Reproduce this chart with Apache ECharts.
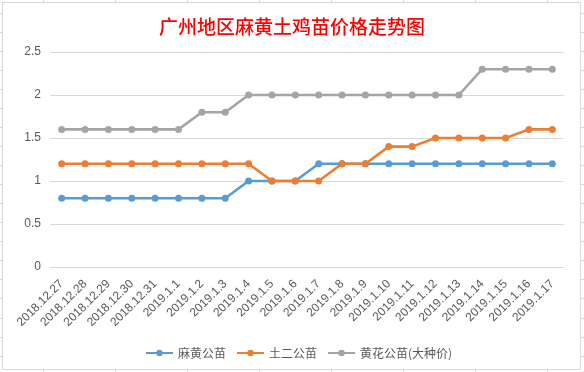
<!DOCTYPE html>
<html>
<head>
<meta charset="utf-8">
<script src="https://cdn.jsdelivr.net/npm/echarts@6/dist/echarts.min.js"></script>
<style>html,body{margin:0;padding:0;background:#fff;}#c{width:584px;height:372px;}</style>
</head>
<body>
<div id="c"></div>
<script>
const categories = ['2018.12.27','2018.12.28','2018.12.29','2018.12.30','2018.12.31','2019.1.1','2019.1.2','2019.1.3','2019.1.4','2019.1.5','2019.1.6','2019.1.7','2019.1.8','2019.1.9','2019.1.10','2019.1.11','2019.1.12','2019.1.13','2019.1.14','2019.1.15','2019.1.16','2019.1.17'];
const mahuang = [0.8,0.8,0.8,0.8,0.8,0.8,0.8,0.8,1.0,1.0,1.0,1.2,1.2,1.2,1.2,1.2,1.2,1.2,1.2,1.2,1.2,1.2];
const tuer = [1.2,1.2,1.2,1.2,1.2,1.2,1.2,1.2,1.2,1.0,1.0,1.0,1.2,1.2,1.4,1.4,1.5,1.5,1.5,1.5,1.6,1.6];
const huanghua = [1.6,1.6,1.6,1.6,1.6,1.6,1.8,1.8,2.0,2.0,2.0,2.0,2.0,2.0,2.0,2.0,2.0,2.0,2.3,2.3,2.3,2.3];
const seriesNames = ['麻黄公苗','土二公苗','黄花公苗(大种价)'];
const colors = ['#5B9BD5','#ED7D31','#A5A5A5'];
const titleText = '广州地区麻黄土鸡苗价格走势图';

const chart = echarts.init(document.getElementById('c'), null, {renderer:'canvas'});

const deco = [];
for (let y = 12.7; y < 372; y += 19.05) {
  deco.push({type:'line', shape:{x1:0,y1:Math.round(y)+0.5,x2:2,y2:Math.round(y)+0.5}, style:{stroke:'#d9d9d9',lineWidth:1}, silent:true});
  deco.push({type:'line', shape:{x1:581,y1:Math.round(y)+0.5,x2:584,y2:Math.round(y)+0.5}, style:{stroke:'#d9d9d9',lineWidth:1}, silent:true});
}
for (let x = 43; x < 584; x += 72) {
  deco.push({type:'line', shape:{x1:Math.round(x)+0.5,y1:0,x2:Math.round(x)+0.5,y2:2}, style:{stroke:'#d9d9d9',lineWidth:1}, silent:true});
  deco.push({type:'line', shape:{x1:Math.round(x)+0.5,y1:370,x2:Math.round(x)+0.5,y2:372}, style:{stroke:'#d9d9d9',lineWidth:1}, silent:true});
}
deco.push({type:'rect', shape:{x:2.5,y:2.5,width:578,height:367}, style:{fill:'none',stroke:'#d9d9d9',lineWidth:1}, silent:true, z:-1});

const mk = (i, data) => ({
  name: seriesNames[i], type:'line', data: data,
  symbol:'circle', symbolSize:7,
  lineStyle:{width:2.6, color:colors[i]},
  itemStyle:{color:colors[i]},
  emphasis:{disabled:true}
});

chart.setOption({
  animation:false,
  backgroundColor:'#fff',
  color: colors,
  title:{
    text:titleText, left:'center', top:12,
    textStyle:{color:'#ff0000', fontSize:19, fontWeight:500, fontFamily:'"Noto Sans CJK SC", sans-serif'}
  },
  legend:{
    left:140, top:342, itemWidth:27, itemHeight:8, itemGap:10,
    textStyle:{color:'#595959', fontSize:12, fontFamily:'"Noto Sans CJK SC", sans-serif'},
    data: seriesNames
  },
  grid:{left:50, right:20, top:52, bottom:105, containLabel:false},
  xAxis:{
    type:'category', data:categories, boundaryGap:true,
    axisLine:{show:true, lineStyle:{color:'#d9d9d9'}},
    axisTick:{show:false},
    axisLabel:{rotate:45, interval:0, margin:15, color:'#595959', fontSize:12, fontFamily:'"Liberation Sans", sans-serif'}
  },
  yAxis:{
    type:'value', min:0, max:2.5, interval:0.5,
    axisLine:{show:false}, axisTick:{show:false},
    splitLine:{lineStyle:{color:'#d9d9d9'}},
    axisLabel:{margin:9, color:'#595959', fontSize:12, fontFamily:'"Liberation Sans", sans-serif'}
  },
  graphic: deco,
  series:[mk(0,mahuang), mk(1,tuer), mk(2,huanghua)]
});
</script>
</body>
</html>
